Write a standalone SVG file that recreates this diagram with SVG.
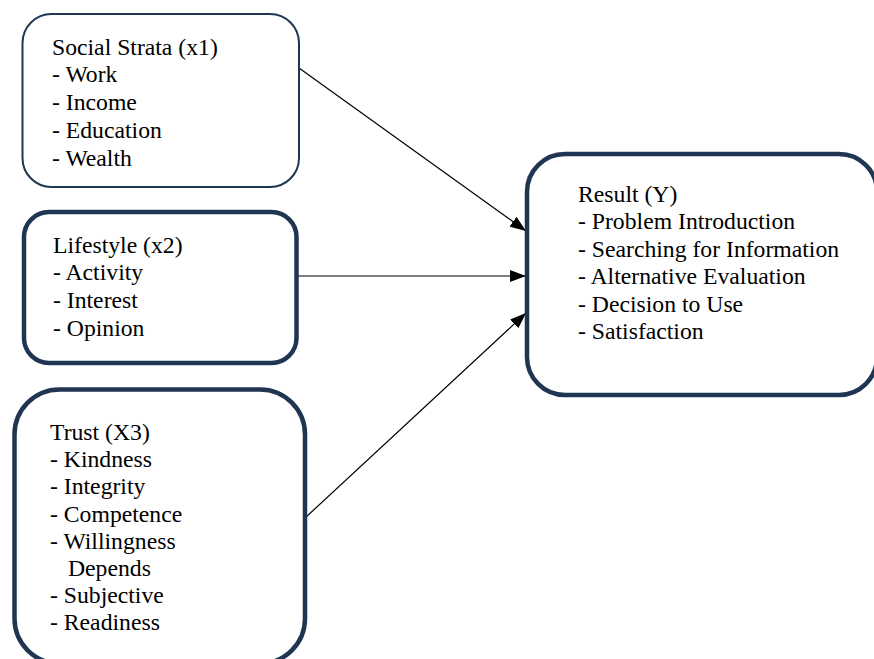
<svg xmlns="http://www.w3.org/2000/svg" width="874" height="659" viewBox="0 0 874 659">
<style>
.box{fill:#ffffff;stroke:#1f3552;}
.thin{stroke-width:2;}
.thick{stroke-width:4.5;}
.t{font-family:"Liberation Serif","Times New Roman",serif;font-size:23.7px;fill:#000000;}
.conn{stroke:#000000;stroke-width:1.2;fill:none;marker-end:url(#arr);}
</style>
<defs>
<marker id="arr" viewBox="0 0 16 12" refX="16" refY="6" markerWidth="16" markerHeight="12" markerUnits="userSpaceOnUse" orient="auto">
<path d="M0,0 L16,6 L0,12 Z" fill="#000000"/>
</marker>
</defs>
<rect width="874" height="659" fill="#ffffff"/>
<g id="connectors">
<line class="conn" x1="299" y1="68" x2="526" y2="231"/>
<line class="conn" x1="297" y1="276" x2="526" y2="276"/>
<line class="conn" x1="305" y1="518" x2="526" y2="313"/>
</g>
<g id="social-strata">
<rect class="box thin" x="22.5" y="14" width="276.5" height="173" rx="29"/>
<text class="t" x="52" y="55">Social Strata (x1)</text>
<text class="t" x="52" y="82">- Work</text>
<text class="t" x="52" y="110">- Income</text>
<text class="t" x="52" y="138">- Education</text>
<text class="t" x="52" y="166">- Wealth</text>
</g>
<g id="lifestyle">
<rect class="box thick" x="24" y="212" width="272.5" height="151" rx="25"/>
<text class="t" x="53" y="253">Lifestyle (x2)</text>
<text class="t" x="53" y="280">- Activity</text>
<text class="t" x="53" y="308">- Interest</text>
<text class="t" x="53" y="336">- Opinion</text>
</g>
<g id="trust">
<rect class="box thick" x="14.5" y="389.5" width="290.5" height="274" rx="45"/>
<text class="t" x="50" y="440">Trust (X3)</text>
<text class="t" x="50" y="467">- Kindness</text>
<text class="t" x="50" y="494">- Integrity</text>
<text class="t" x="50" y="522">- Competence</text>
<text class="t" x="50" y="549">- Willingness</text>
<text class="t" x="68" y="576">Depends</text>
<text class="t" x="50" y="603">- Subjective</text>
<text class="t" x="50" y="630">- Readiness</text>
</g>
<g id="result">
<rect class="box thick" x="527" y="154" width="350" height="241" rx="38"/>
<text class="t" x="578" y="202">Result (Y)</text>
<text class="t" x="578" y="229">- Problem Introduction</text>
<text class="t" x="578" y="257">- Searching for Information</text>
<text class="t" x="578" y="284">- Alternative Evaluation</text>
<text class="t" x="578" y="312">- Decision to Use</text>
<text class="t" x="578" y="339">- Satisfaction</text>
</g>
</svg>
